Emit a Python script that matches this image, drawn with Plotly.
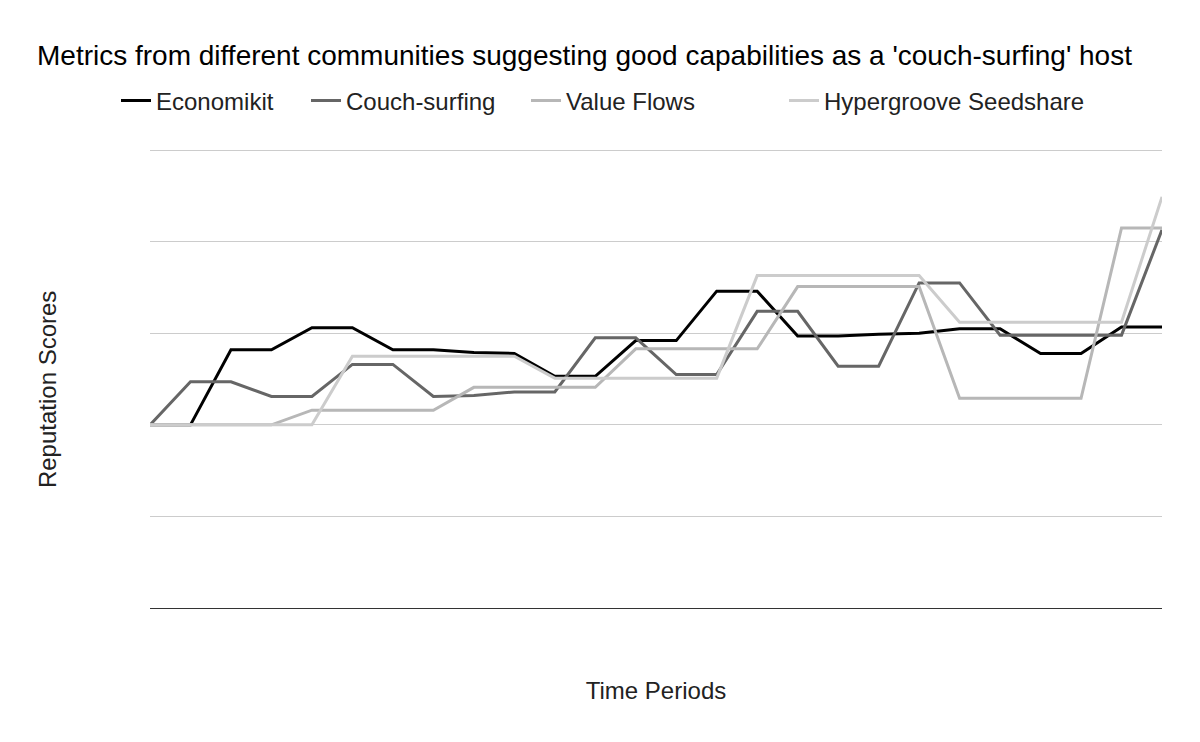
import plotly.graph_objects as go

periods = list(range(26))
economikit = [2.0, 2.0, 2.82, 2.82, 3.06, 3.06, 2.82, 2.82, 2.79, 2.78, 2.53, 2.53, 2.92,
              2.92, 3.46, 3.46, 2.97, 2.97, 2.99, 3.0, 3.05, 3.05, 2.78, 2.78, 3.07, 3.07]
couch_surfing = [2.0, 2.47, 2.47, 2.31, 2.31, 2.66, 2.66, 2.31, 2.32, 2.36, 2.36, 2.95, 2.95,
                 2.55, 2.55, 3.24, 3.24, 2.64, 2.64, 3.55, 3.55, 2.98, 2.98, 2.98, 2.98, 4.13]
value_flows = [2.0, 2.0, 2.0, 2.0, 2.16, 2.16, 2.16, 2.16, 2.41, 2.41, 2.41, 2.41, 2.83,
               2.83, 2.83, 2.83, 3.51, 3.51, 3.51, 3.51, 2.29, 2.29, 2.29, 2.29, 4.15, 4.15]
hypergroove = [2.0, 2.0, 2.0, 2.0, 2.0, 2.75, 2.75, 2.75, 2.75, 2.75, 2.51, 2.51, 2.51,
               2.51, 2.51, 3.63, 3.63, 3.63, 3.63, 3.63, 3.12, 3.12, 3.12, 3.12, 3.12, 4.49]

names = ["Economikit", "Couch-surfing", "Value Flows", "Hypergroove Seedshare"]
series = [economikit, couch_surfing, value_flows, hypergroove]
colors = ["#000000", "#666666", "#b7b7b7", "#cccccc"]
legend_ids = ["legend", "legend2", "legend3", "legend4"]
legend_px = [108, 298, 518, 776]

FONT = "Liberation Sans, Arial, sans-serif"
W, H = 1200, 742
# page has an 8px body margin; margins compensate so the plot spans x 150..1162, y(5)=150..y(0)=608
YMAX = 5.1
L, R, B = 142, 46, 142
plot_h = 458 * YMAX / 5
T = (608 - 8) - plot_h

fig = go.Figure()
for name, vals, col, lid in zip(names, series, colors, legend_ids):
    fig.add_trace(go.Scatter(x=periods, y=vals, mode="lines", name=name,
                             line=dict(color=col, width=3), legend=lid))

legend_common = dict(orientation="h", font=dict(family=FONT, size=24, color="#222222"),
                     bgcolor="rgba(0,0,0,0)", xref="container", yref="container",
                     yanchor="middle", xanchor="left", itemwidth=30, visible=True)
legends = {}
for lid, px in zip(legend_ids, legend_px):
    legends[lid] = dict(legend_common, x=px / W, y=1 - 93 / H)

fig.update_layout(
    width=W, height=H,
    showlegend=True,
    margin=dict(l=L, r=R, t=T, b=B, autoexpand=False),
    paper_bgcolor="white", plot_bgcolor="white",
    title=dict(text="Metrics from different communities suggesting good capabilities as a 'couch-surfing' host",
               x=29 / W, xanchor="left", xref="container",
               y=1 - 47 / H, yanchor="middle", yref="container",
               font=dict(family=FONT, size=28, color="#000000")),
    xaxis=dict(range=[0, 25], showgrid=False, showticklabels=False, zeroline=False,
               showline=False, ticks="", automargin=False,
               title=dict(text="Time Periods", font=dict(family=FONT, size=24, color="#222222"),
                          standoff=74)),
    yaxis=dict(range=[0, YMAX], tickvals=[0, 1, 2, 3, 4, 5], showgrid=True, gridcolor="#cccccc",
               gridwidth=1, showticklabels=False, ticks="", zeroline=True, zerolinecolor="#333333",
               zerolinewidth=1, showline=False, automargin=False),
    annotations=[dict(text="Reputation Scores", textangle=-90, showarrow=False,
                      xref="paper", yref="paper", x=0, xanchor="center", xshift=-103,
                      y=(608 - 390) / plot_h, yanchor="middle",
                      font=dict(family=FONT, size=24, color="#222222"))],
    **legends,
)

fig.write_html("out.html")
